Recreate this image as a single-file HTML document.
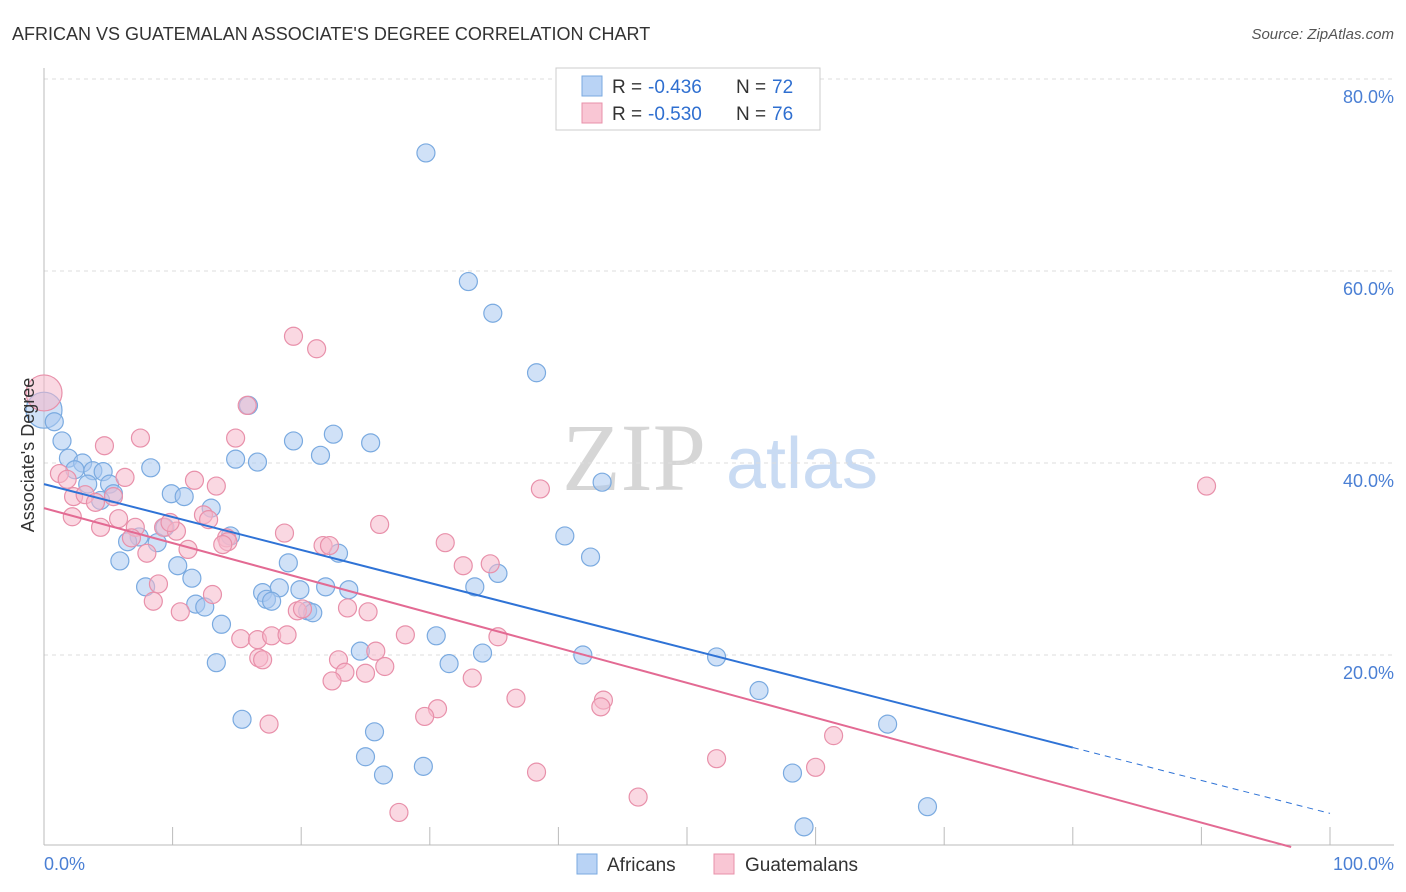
<!DOCTYPE html>
<html><head><meta charset="utf-8">
<style>
body{margin:0;background:#fff;font-family:"Liberation Sans",sans-serif;}
#wrap{position:relative;width:1406px;height:892px;overflow:hidden;}
</style></head>
<body>
<div id="wrap">
<svg id="svg" width="1406" height="892" xmlns="http://www.w3.org/2000/svg">
<text x="12" y="40" font-size="18" fill="#333">AFRICAN VS GUATEMALAN ASSOCIATE'S DEGREE CORRELATION CHART</text>
<text x="1394" y="39" font-size="15" fill="#555" font-style="italic" text-anchor="end">Source: ZipAtlas.com</text>
<text x="634" y="490" font-size="96" fill="#d6d6d6" font-family="Liberation Serif" text-anchor="middle">ZIP</text>
<text x="802" y="488" font-size="72" fill="#c9dbf3" text-anchor="middle">atlas</text>
<g id="grid"></g>
<g id="pts"></g>
<g id="lines"></g>
<text transform="translate(34,455) rotate(-90)" font-size="18" fill="#333" text-anchor="middle">Associate's Degree</text>
<text x="44" y="870" font-size="18" fill="#4a7fd4">0.0%</text>
<text x="1394" y="870" font-size="18" fill="#4a7fd4" text-anchor="end">100.0%</text>
<g>
<rect x="556" y="68" width="264" height="62" fill="#fff" stroke="#ccc"/>
<rect x="582" y="76" width="20" height="20" fill="#b9d3f5" stroke="#7aaae0"/>
<rect x="582" y="103" width="20" height="20" fill="#f9c6d4" stroke="#e890aa"/>
<text x="612" y="93" font-size="19" fill="#333">R =</text>
<text x="648" y="93" font-size="19" fill="#2f6fd0">-0.436</text>
<text x="736" y="93" font-size="19" fill="#333">N =</text>
<text x="772" y="93" font-size="19" fill="#2f6fd0">72</text>
<text x="612" y="120" font-size="19" fill="#333">R =</text>
<text x="648" y="120" font-size="19" fill="#2f6fd0">-0.530</text>
<text x="736" y="120" font-size="19" fill="#333">N =</text>
<text x="772" y="120" font-size="19" fill="#2f6fd0">76</text>
</g>
<g>
<rect x="577" y="854" width="20" height="20" fill="#b9d3f5" stroke="#7aaae0"/>
<text x="607" y="871" font-size="19" fill="#333">Africans</text></g>
<g>
<rect x="714" y="854" width="20" height="20" fill="#f9c6d4" stroke="#e890aa"/>
<text x="745" y="871" font-size="19" fill="#333">Guatemalans</text></g>
</svg>
</div>
<script>
const yTicks=[20,40,60,80];
const blueX=[29.7,33.0,34.9,38.3,15.9,0,0.8,1.4,22.5,25.4,19.4,21.5,14.9,16.6,8.3,1.9,3.0,3.8,4.6,2.4,3.4,5.1,5.4,4.4,9.9,10.9,13.0,43.4,9.4,14.5,7.4,6.5,8.8,5.9,10.4,19.0,22.9,11.5,40.5,42.5,35.3,33.5,7.9,17.0,18.3,19.9,21.9,23.7,11.8,12.5,17.3,17.7,20.5,20.9,13.8,30.5,24.6,34.1,41.9,31.5,13.4,52.3,55.6,65.6,15.4,25.7,25.0,26.4,29.5,58.2,68.7,59.1];
const blueY=[72.3,58.9,55.6,49.4,46.0,45.5,44.3,42.3,43.0,42.1,42.3,40.8,40.4,40.1,39.5,40.5,40.0,39.2,39.1,39.3,37.8,37.8,36.8,36.1,36.8,36.5,35.3,38.0,33.3,32.4,32.3,31.8,31.7,29.8,29.3,29.6,30.6,28.0,32.4,30.2,28.5,27.1,27.1,26.5,27.0,26.8,27.1,26.8,25.3,25.0,25.8,25.6,24.6,24.4,23.2,22.0,20.4,20.2,20.0,19.1,19.2,19.8,16.3,12.8,13.3,12.0,9.4,7.5,8.4,7.7,4.2,2.1];
const pinkX=[0,19.4,21.2,15.8,7.5,4.7,14.9,1.2,1.8,11.7,13.4,6.3,2.3,3.2,4.0,5.4,2.2,4.4,5.8,7.1,6.8,9.3,10.3,9.8,12.4,12.8,14.2,14.3,13.9,8.0,11.2,26.1,31.2,38.6,90.4,18.7,21.7,22.2,32.6,34.7,8.9,8.5,10.6,13.1,19.7,23.6,25.2,20.1,15.3,16.6,17.7,18.9,28.1,35.3,25.8,22.9,23.4,25.0,26.5,22.4,16.7,17.0,33.3,30.6,29.6,36.7,43.5,43.3,17.5,61.4,52.3,38.3,60.0,46.2,27.6];
const pinkY=[47.3,53.2,51.9,46.0,42.6,41.8,42.6,38.9,38.3,38.2,37.6,38.5,36.5,36.7,35.9,36.5,34.4,33.3,34.2,33.3,32.2,33.3,32.9,33.8,34.6,34.1,32.2,31.8,31.5,30.6,31.0,33.6,31.7,37.3,37.6,32.7,31.4,31.4,29.3,29.5,27.4,25.6,24.5,26.3,24.6,24.9,24.5,24.8,21.7,21.6,22.0,22.1,22.1,21.9,20.4,19.5,18.2,18.1,18.8,17.3,19.7,19.5,17.6,14.4,13.6,15.5,15.3,14.6,12.8,11.6,9.2,7.8,8.3,5.2,3.6];
const blueBig=[5], pinkBig=[0];
const blueLine=[37.8,3.5], blueSolidEnd=80;
const pinkLine=[35.3,-1.1];
const NS='http://www.w3.org/2000/svg';
const X=v=>44+v*12.86, Y=v=>847-v*9.6;
const grid=document.getElementById('grid'),pts=document.getElementById('pts'),lines=document.getElementById('lines');
function mk(tag,at,parent){const e=document.createElementNS(NS,tag);for(const k in at)e.setAttribute(k,at[k]);parent.appendChild(e);return e;}
yTicks.forEach(t=>{
 const l=mk('line',{x1:44,x2:1394,y1:Y(t),y2:Y(t),stroke:'#ddd','stroke-dasharray':'4,4'},grid);
 
 
 const tx=mk('text',{x:1394,y:Y(t)+24,'font-size':18,fill:'#4a7fd4','text-anchor':'end'},grid);
 tx.textContent=t.toFixed(1)+'%';
 
 
});
const ax=mk('line',{x1:44,x2:1394,y1:845,y2:845,stroke:'#bbb'},grid);


const ay=mk('line',{x1:44,x2:44,y1:68,y2:845,stroke:'#bbb'},grid);


for(let i=1;i<=10;i++){const t=mk('line',{x1:X(i*10),x2:X(i*10),y1:827,y2:845,stroke:'#bbb'},grid);
 
 }
function dots(xs,ys,big,fill,stroke,name){xs.forEach((x,i)=>{
 const c=mk('circle',{cx:X(x),cy:Y(ys[i]),r:big.includes(i)?18:9,fill:fill,'fill-opacity':0.55,stroke:stroke,'stroke-width':1.2},pts);
 
 });}
dots(blueX,blueY,blueBig,'#a9c8f0','#7aaae0','african-point');
dots(pinkX,pinkY,pinkBig,'#f5b8ca','#e890aa','guatemalan-point');
const by=x=>blueLine[0]+(blueLine[1]-blueLine[0])*x/100;
const b1=mk('line',{x1:X(0),y1:Y(by(0)),x2:X(blueSolidEnd),y2:Y(by(blueSolidEnd)),stroke:'#2f73d6','stroke-width':2},lines);


const b2=mk('line',{x1:X(blueSolidEnd),y1:Y(by(blueSolidEnd)),x2:X(100),y2:Y(by(100)),stroke:'#2f73d6','stroke-width':1,'stroke-dasharray':'6,5'},lines);


const py=x=>pinkLine[0]+(pinkLine[1]-pinkLine[0])*x/100;
const xEnd=Math.min(100,pinkLine[0]/(pinkLine[0]-pinkLine[1])*100);
const p1=mk('line',{x1:X(0),y1:Y(py(0)),x2:X(xEnd),y2:Y(py(xEnd)),stroke:'#e36a93','stroke-width':2},lines);


</script>
</body></html>
